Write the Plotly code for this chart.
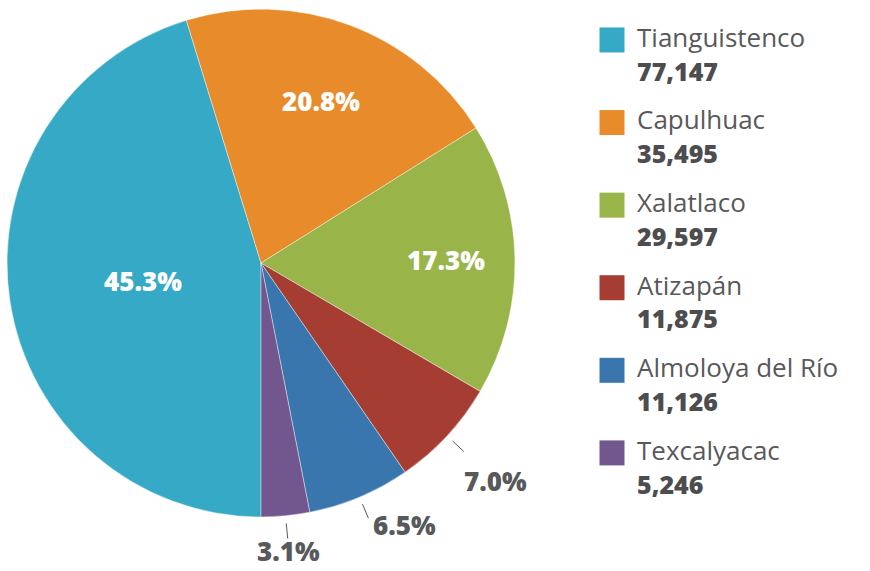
import math
import plotly.graph_objects as go

municipios = ["Tianguistenco", "Capulhuac", "Xalatlaco", "Atizapán", "Almoloya del Río", "Texcalyacac"]
poblacion = [77147, 35495, 29597, 11875, 11126, 5246]
etiquetas_pct = ["45.3%", "20.8%", "17.3%", "7.0%", "6.5%", "3.1%"]
valores_txt = ["77,147", "35,495", "29,597", "11,875", "11,126", "5,246"]
colores = ["#35A9C6", "#E88B2A", "#99B54A", "#A63D33", "#3A76AE", "#72578F"]

W, H = 870, 571
GRIS = "#58595B"
FUENTE = "Open Sans"
DOMINIO = dict(x=[0.008, 0.592], y=[0.0946, 0.984])

# label placement (style): radius as fraction of pie radius, anchor, inside/outside
radio_etq = [0.47, 0.68, 0.73, 1.26, 1.12, 1.14]
anclaje_x = ["center", "center", "center", "center", "left", "center"]
dentro = [True, True, True, False, False, False]

fig = go.Figure()
fig.add_trace(go.Pie(
    labels=municipios,
    values=poblacion,
    textinfo="none",
    marker=dict(colors=colores, line=dict(color="white", width=0.4)),
    sort=False,
    direction="clockwise",
    rotation=180,
    domain=DOMINIO,
    showlegend=False,
    hoverinfo="label+value",
))

# overlay axes in units of the pie radius, centred on the pie centre
cx = W * (DOMINIO["x"][0] + DOMINIO["x"][1]) / 2
cy = H * (1 - (DOMINIO["y"][0] + DOMINIO["y"][1]) / 2)
R = min(W * (DOMINIO["x"][1] - DOMINIO["x"][0]), H * (DOMINIO["y"][1] - DOMINIO["y"][0])) / 2
rango_x = [-cx / R, (W - cx) / R]
rango_y = [-(H - cy) / R, cy / R]

# mid-angle of every slice (clockwise from 12 o'clock, first slice starts at 6 o'clock)
total = sum(poblacion)
medios = []
acum = 0
for v in poblacion:
    medios.append(math.radians((180 + 360 * (acum + v / 2) / total) % 360))
    acum += v

def punto(ang, r):
    return r * math.sin(ang), r * math.cos(ang)

for i, d in enumerate(dentro):
    if not d:
        x0, y0 = punto(medios[i], 1.03)
        x1, y1 = punto(medios[i], 1.09)
        fig.add_trace(go.Scatter(
            x=[x0, x1], y=[y0, y1], mode="lines",
            line=dict(color=GRIS, width=1),
            xaxis="x3", yaxis="y3", showlegend=False, hoverinfo="skip",
        ))

anotaciones = []
for i, t in enumerate(etiquetas_pct):
    x, y = punto(medios[i], radio_etq[i])
    anotaciones.append(dict(
        x=x, y=y, xref="x3", yref="y3", text=t, showarrow=False,
        xanchor=anclaje_x[i], yanchor="middle",
        font=dict(family=FUENTE, size=26, weight=800,
                  color="white" if dentro[i] else GRIS),
    ))

# legend built from markers + text
idx = list(range(len(municipios)))
fig.add_trace(go.Scatter(
    x=[90] * len(idx), y=idx,
    mode="markers",
    marker=dict(symbol="square", size=25, color=colores, line=dict(width=0)),
    xaxis="x2", yaxis="y2", showlegend=False, hoverinfo="skip",
))
fig.add_trace(go.Scatter(
    x=[115] * len(idx), y=[i + 0.21 for i in idx],
    mode="text",
    text=["<span style='font-size:26px'>" + m + "</span><br>"
          "<span style='font-size:25px;font-weight:800;fill:#4D4D4F'>" + v + "</span>"
          for m, v in zip(municipios, valores_txt)],
    textposition="middle right",
    textfont=dict(family=FUENTE, size=26, color=GRIS, weight=400),
    xaxis="x2", yaxis="y2", showlegend=False, hoverinfo="skip",
))

fig.update_layout(
    width=W, height=H,
    margin=dict(l=0, r=0, t=0, b=0),
    paper_bgcolor="white", plot_bgcolor="rgba(0,0,0,0)",
    annotations=anotaciones,
    xaxis3=dict(domain=[0, 1], range=rango_x, visible=False, fixedrange=True),
    yaxis3=dict(domain=[0, 1], range=rango_y, visible=False, fixedrange=True, anchor="x3"),
    xaxis2=dict(domain=[0.6, 1.0], range=[0, 348], visible=False, fixedrange=True),
    yaxis2=dict(domain=[0, 1], range=[6.43, -0.484], visible=False, fixedrange=True, anchor="x2"),
)
fig.write_html("out.html", config={"displayModeBar": False},
               post_script="document.body.style.margin='0';")
